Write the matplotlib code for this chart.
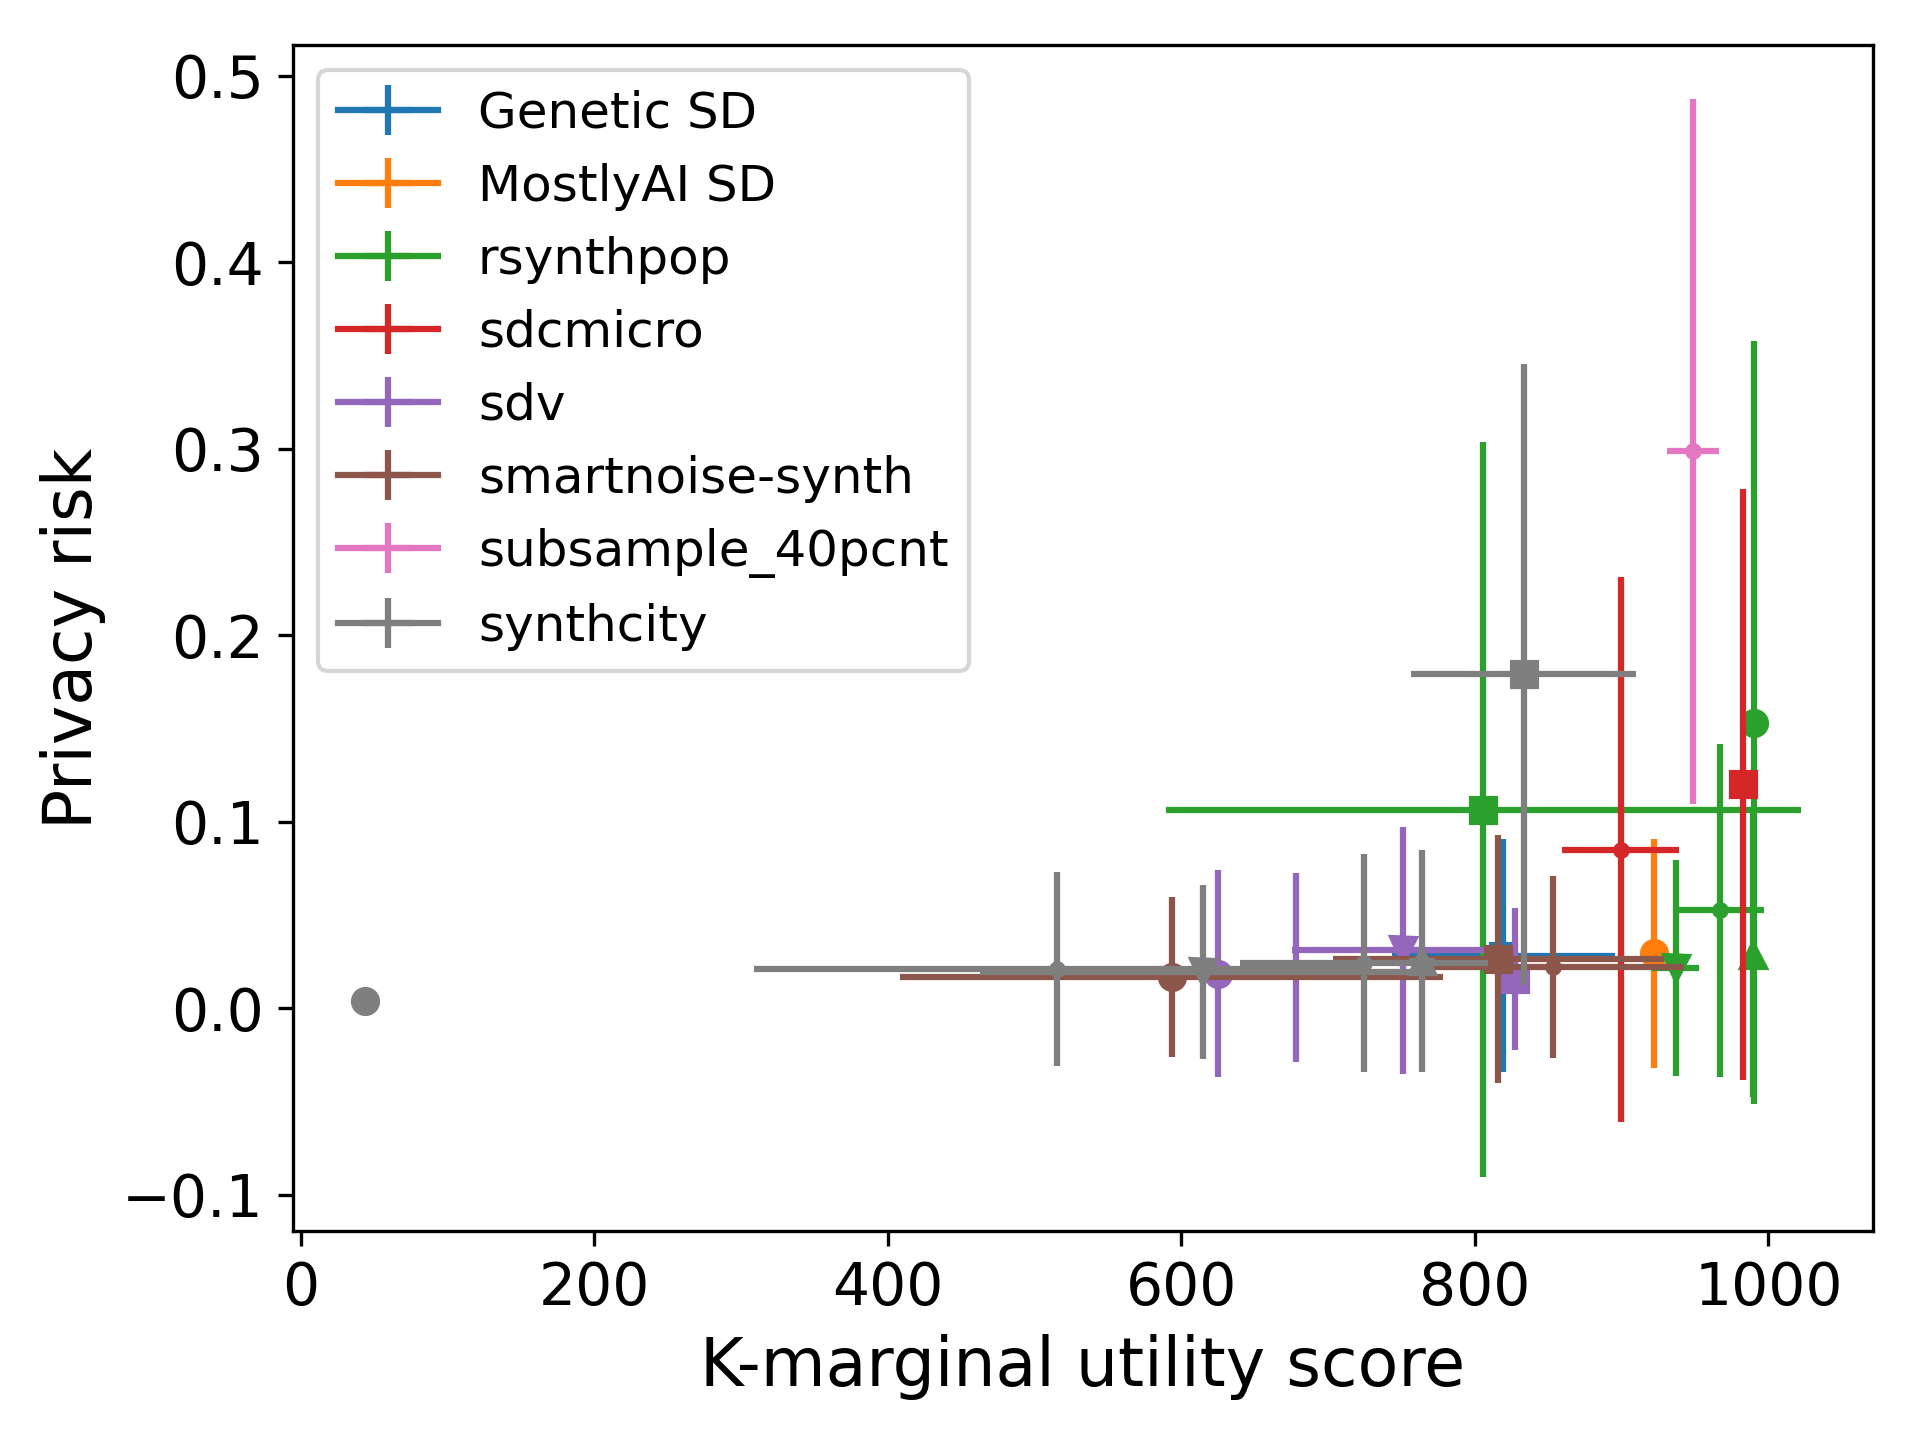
# -*- coding: utf-8 -*-
"""
Privacy risk vs K-marginal utility score, one colour per method,
marker shape per run, error bars in both directions.
"""

# imports
import matplotlib
matplotlib.use('Agg')
import matplotlib.pyplot as plt


# Global Values
methods = ['Genetic SD', 'MostlyAI SD', 'rsynthpop', 'sdcmicro', 'sdv',
           'smartnoise-synth', 'subsample_40pcnt', 'synthcity']

# utility score (x), privacy risk (y), errors, markers per method
genetic_x = [819.4]
genetic_y = [0.0283]
genetic_xerr = [76]
genetic_yerr = [0.0625]
genetic_mk = ['s']

mostly_x = [922]
mostly_y = [0.0295]
mostly_xerr = [4]
mostly_yerr = [0.0613]
mostly_mk = ['o']

rsynth_x = [805.8, 990.3, 989.5, 936.8, 967.0]
rsynth_y = [0.1065, 0.1530, 0.0287, 0.0216, 0.0525]
rsynth_xerr = [216.5, 3, 3, 16, 30]
rsynth_yerr = [0.197, 0.2045, 0.076, 0.058, 0.0894]
rsynth_mk = ['s', 'o', '^', 'v', '.']

sdc_x = [982.4, 899.3]
sdc_y = [0.1202, 0.0850]
sdc_xerr = [4, 40]
sdc_yerr = [0.1584, 0.146]
sdc_mk = ['s', '.']

sdv_x = [750.7, 625.2, 678.1, 827.2]
sdv_y = [0.0310, 0.0186, 0.0218, 0.0159]
sdv_xerr = [75.5, 8, 5, 4]
sdv_yerr = [0.066, 0.0556, 0.0508, 0.038]
sdv_mk = ['v', 'o', '.', 's']

snoise_x = [593.4, 816.0, 853.5]
snoise_y = [0.0169, 0.0262, 0.0220]
snoise_xerr = [185, 113, 89]
snoise_yerr = [0.0428, 0.0665, 0.0487]
snoise_mk = ['o', 's', '.']

subs_x = [948.4]
subs_y = [0.2985]
subs_xerr = [17.6]
subs_yerr = [0.189]
subs_mk = ['.']

synth_x = [43.5, 833.1, 515.2, 615.0, 724.2, 763.9]
synth_y = [0.0040, 0.1790, 0.0212, 0.0194, 0.0244, 0.0253]
synth_xerr = [0, 76.5, 206.6, 152, 84.5, 9]
synth_yerr = [0, 0.1665, 0.052, 0.0468, 0.0584, 0.0597]
synth_mk = ['o', 's', '.', 'v', '.', '^']

colors = ['tab:blue', 'tab:orange', 'tab:green', 'tab:red', 'tab:purple',
          'tab:brown', 'tab:pink', 'tab:gray']


# Draw one method: error bars first, then the markers on top
def drawMethod(ax, label, color, xs, ys, xerrs, yerrs, markers):

    for i in range(len(xs)):
        ax.errorbar(xs[i], ys[i], xerr=xerrs[i], yerr=yerrs[i], color=color,
                    label=label if i == 0 else None)
    for i in range(len(xs)):
        ax.plot(xs[i], ys[i], marker=markers[i], linestyle='none', color=color)


# MAIN
def main():

    fig = plt.figure(figsize=(6.4, 4.8), dpi=300)
    ax = fig.add_axes([0.1526, 0.1451, 0.8229, 0.8237])

    data = [
        (genetic_x, genetic_y, genetic_xerr, genetic_yerr, genetic_mk),
        (mostly_x, mostly_y, mostly_xerr, mostly_yerr, mostly_mk),
        (rsynth_x, rsynth_y, rsynth_xerr, rsynth_yerr, rsynth_mk),
        (sdc_x, sdc_y, sdc_xerr, sdc_yerr, sdc_mk),
        (sdv_x, sdv_y, sdv_xerr, sdv_yerr, sdv_mk),
        (snoise_x, snoise_y, snoise_xerr, snoise_yerr, snoise_mk),
        (subs_x, subs_y, subs_xerr, subs_yerr, subs_mk),
        (synth_x, synth_y, synth_xerr, synth_yerr, synth_mk),
    ]

    for name, color, d in zip(methods, colors, data):
        drawMethod(ax, name, color, *d)

    ax.set_xlabel('K-marginal utility score', fontsize=16)
    ax.set_ylabel('Privacy risk', fontsize=16)
    ax.tick_params(labelsize=14)
    ax.legend(loc='upper left', fontsize=12)

    plt.savefig('out.png', dpi=300)


if __name__ == "__main__":
    main()
